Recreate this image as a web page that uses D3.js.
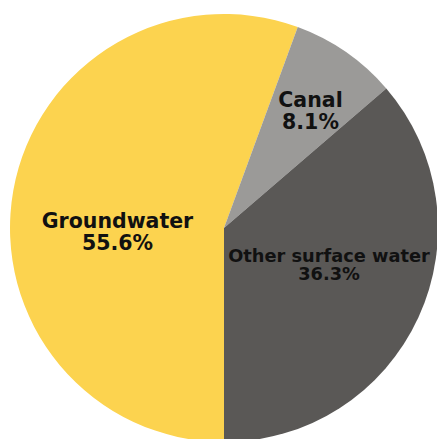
<!DOCTYPE html>
<html><head><meta charset="utf-8">
<script src="https://cdn.jsdelivr.net/npm/d3@7"></script>
<style>html,body{margin:0;padding:0;background:#fff;overflow:hidden}</style>
</head><body>
<svg id="chart" width="437" height="439"></svg>
<script>
const categories = ["Groundwater", "Canal", "Other surface water"];
const values = [55.6, 8.1, 36.3];
const valueLabels = ["55.6%", "8.1%", "36.3%"];

const colors = ["#FCD34F", "#9B9A98", "#5A5856"];
// label anchor (center x, first baseline y, line gap, font size)
const labelLayout = [
  {x: 117.5, y: 228, gap: 21.5, size: 20.5},
  {x: 310.5, y: 107, gap: 21.5, size: 20.5},
  {x: 329, y: 261.5, gap: 18.5, size: 17.8}
];

const svg = d3.select("#chart");
const cx = 224, cy = 228, r = 214;
const g = svg.append("g").attr("transform", `translate(${cx},${cy})`);

const pie = d3.pie().sort(null).value(d => d)
  .startAngle(Math.PI).endAngle(3 * Math.PI);
const arc = d3.arc().innerRadius(0).outerRadius(r);
const arcs = pie(values);

g.selectAll("path").data(arcs).join("path")
  .attr("d", arc)
  .attr("fill", (d, i) => colors[i]);

const lbl = svg.append("g")
  .attr("font-family", "'DejaVu Sans', sans-serif")
  .attr("font-weight", 700)
  .attr("fill", "#111")
  .attr("text-anchor", "middle");

categories.forEach((c, i) => {
  const L = labelLayout[i];
  lbl.append("text").attr("font-size", L.size)
    .attr("x", L.x).attr("y", L.y).text(c);
  lbl.append("text").attr("font-size", L.size)
    .attr("x", L.x).attr("y", L.y + L.gap).text(valueLabels[i]);
});
</script>
</body></html>
